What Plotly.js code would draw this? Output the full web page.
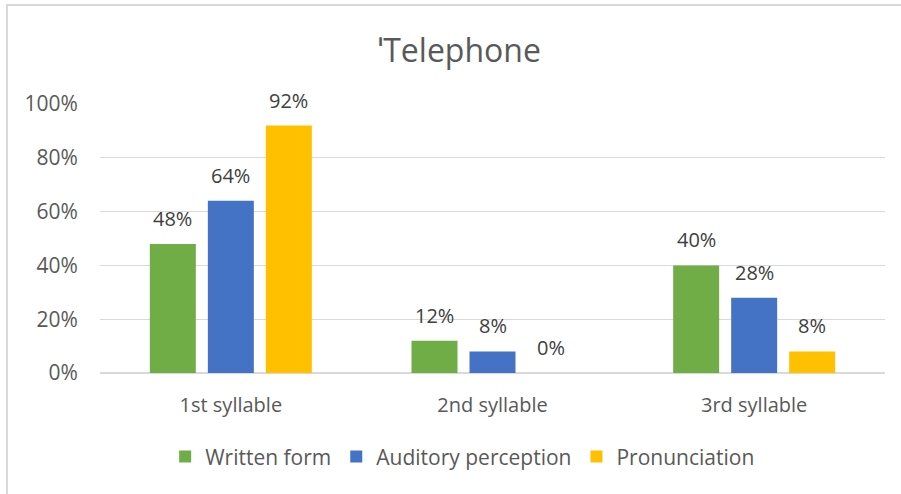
<!DOCTYPE html>
<html>
<head>
<meta charset="utf-8">
<script src="https://cdn.plot.ly/plotly-3.0.1.min.js"></script>
<style>
  html, body { margin: 0; padding: 0; background: #fff; }
  #wrap { position: relative; width: 901px; height: 494px; }
  #chart { width: 901px; height: 494px; }
  #frame { position: absolute; left: 6px; top: 4px; right: 0; bottom: 0;
           border-left: 2px solid #d9d9d9; border-top: 2px solid #d9d9d9; pointer-events: none; }
</style>
</head>
<body>
<div id="wrap">
  <div id="chart"></div>
  <div id="frame"></div>
</div>
<script>
const categories = ["1st syllable", "2nd syllable", "3rd syllable"];
const seriesNames = ["Written form", "Auditory perception", "Pronunciation"];
const writtenForm = [0.48, 0.12, 0.40];
const auditoryPerception = [0.64, 0.08, 0.28];
const pronunciation = [0.92, 0.00, 0.08];
const colors = ["#70AD47", "#4472C4", "#FFC000"];
const yTicks = [0, 0.2, 0.4, 0.6, 0.8, 1.0];
const yTickLabels = ["0%", "20%", "40%", "60%", "80%", "100%"];

const FONT = "'Open Sans', 'Noto Sans', sans-serif";
const values = [writtenForm, auditoryPerception, pronunciation];

const W = 901, H = 494;
const margin = { l: 100, r: 16, t: 104, b: 121 };
const BARGAP = 0.335, BARGROUPGAP = 0.207;

const traces = values.map((v, i) => ({
  type: "bar",
  name: seriesNames[i],
  x: categories,
  y: v,
  marker: { color: colors[i] },
  hoverinfo: "none"
}));

// data labels, placed over each bar via category axis + group offset
const plotW = W - margin.l - margin.r;
const slot = (1 - BARGAP) * (plotW / categories.length) / values.length;
const annotations = [];
values.forEach((v, i) => {
  v.forEach((d, j) => {
    annotations.push({
      x: categories[j], y: d, xref: "x", yref: "y",
      text: Math.round(d * 100) + "%",
      showarrow: false,
      xanchor: "center", yanchor: "bottom",
      xshift: (i - (values.length - 1) / 2) * slot,
      yshift: 10,
      font: { family: FONT, size: 20, color: "#404040" }
    });
  });
});

const layout = {
  width: W, height: H,
  margin: margin,
  paper_bgcolor: "#ffffff",
  plot_bgcolor: "#ffffff",
  font: { family: FONT, color: "#595959" },
  title: {
    text: "ˈTelephone",
    font: { family: FONT, size: 32, color: "#595959" },
    xref: "container", x: 0.51, xanchor: "center",
    yref: "container", y: 0.898, yanchor: "middle"
  },
  barmode: "group",
  bargap: BARGAP,
  bargroupgap: BARGROUPGAP,
  xaxis: {
    type: "category",
    showgrid: false,
    showline: false,
    zeroline: false,
    ticks: "outside", ticklen: 14, tickcolor: "rgba(0,0,0,0)",
    tickfont: { family: FONT, size: 20, color: "#595959" }
  },
  yaxis: {
    range: [0, 1.0],
    tickvals: yTicks,
    ticktext: yTickLabels,
    showgrid: true,
    gridcolor: "#d9d9d9",
    gridwidth: 1.3,
    zeroline: true,
    zerolinecolor: "#d9d9d9",
    zerolinewidth: 1.3,
    showline: false,
    ticks: "outside", ticklen: 17, tickcolor: "rgba(0,0,0,0)",
    tickfont: { family: FONT, size: 21, color: "#595959" }
  },
  annotations: annotations,
  showlegend: true,
  legend: {
    orientation: "h",
    xref: "paper", x: 0.462, xanchor: "center",
    yref: "paper", y: -0.312, yanchor: "middle",
    font: { family: FONT, size: 21, color: "#595959" },
    itemwidth: 30,
    tracegroupgap: 0
  }
};

Plotly.newPlot("chart", traces, layout, { displayModeBar: false, staticPlot: true });
</script>
</body>
</html>
